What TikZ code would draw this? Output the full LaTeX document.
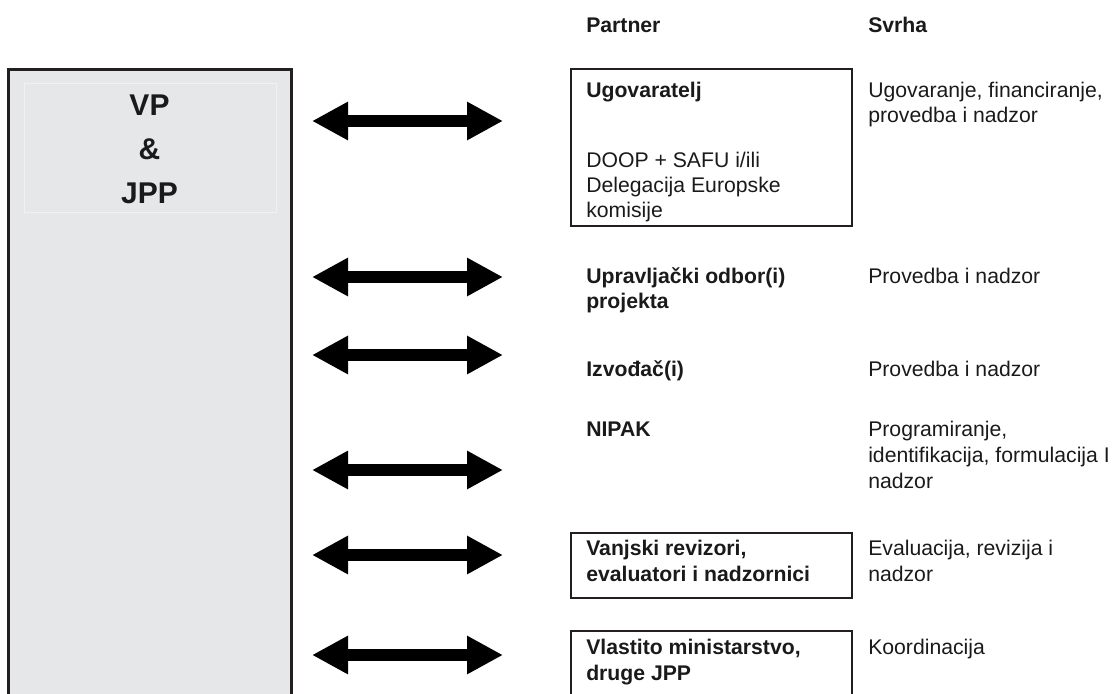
\documentclass[tikz,border=0pt]{standalone}
\usepackage{fontspec}
\setmainfont{Liberation Sans}
\usetikzlibrary{arrows.meta,fit}
\definecolor{vpfill}{HTML}{E6E7E9}
\definecolor{vpline}{HTML}{231F20}
\definecolor{faint}{HTML}{F0F1F2}
\definecolor{txt}{HTML}{1A1A1A}
\tikzset{
  lbl/.style={anchor=base west, inner sep=0pt, text=txt, font=\fontsize{15.9}{19}\selectfont},
  blbl/.style={lbl, font=\fontsize{15.9}{19}\selectfont\bfseries},
  pbox/.style={draw=vpline, line width=1.5pt, inner sep=0pt},
  dblarrow/.style={line width=9pt, draw=black,
     {Triangle[length=27pt,width=27pt]}-{Triangle[length=27pt,width=27pt]}},
}
\begin{document}
\begin{tikzpicture}[x=0.75pt,y=-0.75pt]
\useasboundingbox (0,0) rectangle (1118,693);
\clip (0,0) rectangle (1118,693);
% left grey block
\node[fill=vpfill, draw=vpline, line width=2.25pt, inner sep=0pt, fit={(8,69) (291,730)}] (vp) {};
\node[draw=faint, line width=0.75pt, inner sep=0pt, fit={(24,83) (276,212)}] (vpin) {};
\node[align=center, inner sep=0pt, text=txt, font=\fontsize{22.5}{33}\selectfont\bfseries] (vptext) at (149.5,149) {VP\\\&\\JPP};
% headers
\node[blbl] (hpartner) at (586,32) {Partner};
\node[blbl] (hsvrha) at (868,32) {Svrha};
% partner boxes
\node[pbox, fit={(571,69) (852,226)}] (ugbox) {};
\node[pbox, fit={(571,533) (852,598)}] (vabox) {};
\node[pbox, fit={(571,631) (852,740)}] (vlbox) {};
% row 1
\node[blbl] (p1) at (586,97) {Ugovaratelj};
\node[lbl] (p1b) at (586,167) {DOOP + SAFU i/ili};
\node[lbl] (p1c) at (586,192) {Delegacija Europske};
\node[lbl] (p1d) at (586,217) {komisije};
\node[lbl] (s1) at (868,97) {Ugovaranje, financiranje,};
\node[lbl] (s1b) at (868,122) {provedba i nadzor};
% row 2
\node[blbl] (p2) at (586,283) {Upravljački odbor(i)};
\node[blbl] (p2b) at (586,308) {projekta};
\node[lbl] (s2) at (868,283) {Provedba i nadzor};
% row 3
\node[blbl] (p3) at (586,376) {Izvođač(i)};
\node[lbl] (s3) at (868,376) {Provedba i nadzor};
% row 4
\node[blbl] (p4) at (586,436) {NIPAK};
\node[lbl] (s4) at (868,436) {Programiranje,};
\node[lbl] (s4b) at (868,462) {identifikacija, formulacija I};
\node[lbl] (s4c) at (868,488) {nadzor};
% row 5
\node[blbl] (p5) at (586,555) {Vanjski revizori,};
\node[blbl] (p5b) at (586,581) {evaluatori i nadzornici};
\node[lbl] (s5) at (868,555) {Evaluacija, revizija i};
\node[lbl] (s5b) at (868,581) {nadzor};
% row 6
\node[blbl] (p6) at (586,654) {Vlastito ministarstvo,};
\node[blbl] (p6b) at (586,680) {druge JPP};
\node[lbl] (s6) at (868,654) {Koordinacija};
% arrows
\foreach \i/\yy in {1/121,2/277,3/355,4/470,5/555,6/655}{
  \coordinate (al\i) at (312,\yy);
  \coordinate (ar\i) at (503,\yy);
  \draw[dblarrow] (al\i) -- (ar\i);
}
\end{tikzpicture}
\end{document}
